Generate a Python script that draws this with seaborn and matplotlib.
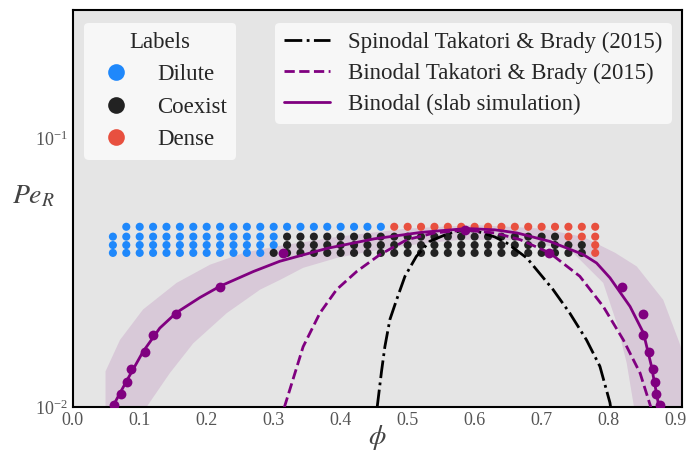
import matplotlib
matplotlib.use("Agg")
import matplotlib.pyplot as plt
import seaborn as sns
import pandas as pd
from matplotlib.lines import Line2D
from matplotlib.ticker import MultipleLocator, NullFormatter

# ---------------- data ----------------
phi_cols = [0.06, 0.08, 0.10, 0.12, 0.14, 0.16, 0.18, 0.20, 0.22, 0.24, 0.26, 0.28,
            0.30, 0.32, 0.34, 0.36, 0.38, 0.40, 0.42, 0.44, 0.46, 0.48, 0.50, 0.52,
            0.54, 0.56, 0.58, 0.60, 0.62, 0.64, 0.66, 0.68, 0.70, 0.72, 0.74, 0.76, 0.78]
pe_rows = [0.0469, 0.0431, 0.0401, 0.0375]
# D = Dilute, C = Coexist, S = Dense, . = no simulation
row_codes = [
    "." + "D" * 20 + "S" * 16,
    "D" * 13 + "C" * 21 + "S" * 3,
    "D" * 13 + "C" * 23 + "S" * 1,
    "D" * 12 + "C" * 24 + "S" * 1,
]
label_names = {"D": "Dilute", "C": "Coexist", "S": "Dense"}
label_colors = {"Dilute": "#1f88fb", "Coexist": "#222222", "Dense": "#e8503f"}

# slab simulation binodal points
sim_pe = [0.0102, 0.0112, 0.0124, 0.0139, 0.0160, 0.0186, 0.0223, 0.0280, 0.0374]
sim_phi_dilute = [0.0616, 0.0721, 0.0815, 0.0875, 0.1075, 0.1203, 0.1542, 0.2194, 0.3134]
sim_phi_dense = [0.8766, 0.8701, 0.8691, 0.8666, 0.8606, 0.8516, 0.8516, 0.8203, 0.7113]
crit_phi = [0.5855]
crit_pe = [0.0458]

# binodal fit (slab simulation)
fit_phi = [0.058, 0.061, 0.081, 0.105, 0.130, 0.155, 0.190, 0.220, 0.270, 0.309, 0.380,
           0.450, 0.520, 0.588, 0.630, 0.663, 0.712, 0.762, 0.782, 0.802, 0.832, 0.852,
           0.864, 0.874, 0.876]
fit_pe = [0.0100, 0.0102, 0.0126, 0.0161, 0.0197, 0.0225, 0.0256, 0.0282, 0.0320, 0.0349,
          0.0390, 0.0423, 0.0447, 0.0462, 0.0457, 0.0445, 0.0414, 0.0370, 0.0344, 0.0303,
          0.0237, 0.0189, 0.0142, 0.0104, 0.0100]

# Takatori & Brady binodal
tb_bin_phi = [0.316, 0.317, 0.344, 0.369, 0.394, 0.424, 0.459, 0.499, 0.540, 0.585,
              0.630, 0.668, 0.712, 0.757, 0.792, 0.822, 0.847, 0.862, 0.863]
tb_bin_pe = [0.0100, 0.0102, 0.0168, 0.0224, 0.0274, 0.0320, 0.0370, 0.0420, 0.0445, 0.0456,
             0.0445, 0.0420, 0.0375, 0.0307, 0.0237, 0.0178, 0.0134, 0.0102, 0.0100]

# Takatori & Brady spinodal
tb_spin_phi = [0.4545, 0.461, 0.466, 0.4735, 0.4835, 0.496, 0.513, 0.533, 0.560, 0.585,
               0.605, 0.630, 0.648, 0.678, 0.717, 0.742, 0.767, 0.787, 0.802, 0.803]
tb_spin_pe = [0.0100, 0.0136, 0.0168, 0.0212, 0.0251, 0.0307, 0.0364, 0.0414, 0.0442, 0.0456,
              0.0450, 0.0430, 0.0408, 0.0359, 0.0274, 0.0224, 0.0178, 0.0142, 0.0104, 0.0100]

# uncertainty band of the fit
band_outer_phi = [0.049, 0.049, 0.0706, 0.105, 0.155, 0.205, 0.255, 0.305, 0.400, 0.500,
                  0.600, 0.700, 0.762, 0.810, 0.842, 0.8815, 0.906, 0.925, 0.930]
band_outer_pe = [0.0100, 0.0136, 0.0178, 0.0231, 0.0290, 0.0339, 0.0375, 0.0397, 0.0432,
                 0.0462, 0.0476, 0.0462, 0.0430, 0.0375, 0.0334, 0.0251, 0.0173, 0.0120, 0.0100]
band_inner_phi = [0.110, 0.145, 0.180, 0.230, 0.280, 0.310, 0.344, 0.394, 0.444, 0.500,
                  0.580, 0.660, 0.742, 0.792, 0.812, 0.827, 0.838]
band_inner_pe = [0.0100, 0.0134, 0.0173, 0.0224, 0.0274, 0.0298, 0.0330, 0.0359, 0.0380,
                 0.0400, 0.0420, 0.0418, 0.0386, 0.0290, 0.0206, 0.0146, 0.0100]

# ---------------- style ----------------
sns.set_style("white")
plt.rcParams["font.family"] = ["Liberation Serif", "DejaVu Serif"]
plt.rcParams["mathtext.fontset"] = "stix"

fig = plt.figure(figsize=(6.88, 4.55), dpi=100)
ax = fig.add_axes([72.7 / 688, (455 - 407.3) / 455, (682.3 - 72.7) / 688, (407.3 - 10) / 455])
ax.set_facecolor("#e5e5e5")
ax.set_yscale("log")

# band
poly_phi = band_outer_phi + band_inner_phi[::-1]
poly_pe = band_outer_pe + band_inner_pe[::-1]
ax.fill(poly_phi, poly_pe, color="purple", alpha=0.12, lw=0, zorder=1)

# label dots
recs = []
for pe, codes in zip(pe_rows, row_codes):
    for phi, c in zip(phi_cols, codes):
        if c in label_names:
            recs.append({"phi": phi, "pe": pe, "label": label_names[c]})
df = pd.DataFrame(recs)
sns.scatterplot(data=df, x="phi", y="pe", hue="label", palette=label_colors,
                s=34, linewidth=0, legend=False, ax=ax, zorder=2)

# curves
sns.lineplot(x=tb_spin_phi, y=tb_spin_pe, sort=False, estimator=None, color="black",
             linestyle="-.", lw=2, ax=ax, zorder=3)
sns.lineplot(x=tb_bin_phi, y=tb_bin_pe, sort=False, estimator=None, color="purple",
             linestyle="--", lw=2, ax=ax, zorder=3)
sns.lineplot(x=fit_phi, y=fit_pe, sort=False, estimator=None, color="purple",
             linestyle="-", lw=2, ax=ax, zorder=3)

# simulation points
sim_df = pd.DataFrame({"phi": sim_phi_dilute + sim_phi_dense + crit_phi,
                       "pe": sim_pe + sim_pe + crit_pe})
sns.scatterplot(data=sim_df, x="phi", y="pe", color="purple", s=50, linewidth=0,
                ax=ax, zorder=4, legend=False)

ax.set_xlim(0.0, 0.91)
ax.set_ylim(0.01, 0.3)
ax.xaxis.set_major_locator(MultipleLocator(0.1))
ax.xaxis.set_minor_locator(MultipleLocator(0.05))
ax.yaxis.set_minor_formatter(NullFormatter())
ax.tick_params(axis="both", which="both", direction="in", colors="black",
               labelcolor="#555555", labelsize=13, width=1.3)
ax.tick_params(axis="x", which="both", length=4.5)
ax.tick_params(axis="y", which="major", length=5.5)
ax.tick_params(axis="y", which="minor", length=3.5)
for s in ax.spines.values():
    s.set_color("black")
    s.set_linewidth(1.5)

ax.set_xlabel(r"$\phi$", fontsize=20, color="#444444", va="center")
ax.xaxis.set_label_coords(0.5, (407.3 - 438) / 397.3)
ax.set_ylabel(r"$Pe_R$", fontsize=20, color="#444444", rotation=0, va="center", ha="center")
ax.yaxis.set_label_coords((33 - 72.7) / 609.6, (407.3 - 197) / 397.3)

# legends
h1 = [Line2D([], [], ls="", marker="o", ms=12, mew=0, color=label_colors[k]) for k in
      ["Dilute", "Coexist", "Dense"]]
leg1 = ax.legend(h1, ["Dilute", "Coexist", "Dense"], title="Labels", loc="upper left",
                 bbox_to_anchor=((84 - 72.7) / 609.6, (407.3 - 22.7) / 397.3),
                 borderaxespad=0, fontsize=16.5, title_fontsize=16.5, frameon=True,
                 facecolor="white", framealpha=0.7, edgecolor="none",
                 handlelength=2.0, handletextpad=0.8, labelspacing=0.5, borderpad=0.4)
ax.add_artist(leg1)
h2 = [Line2D([], [], color="black", ls="-.", lw=2),
      Line2D([], [], color="purple", ls="--", lw=2),
      Line2D([], [], color="purple", ls="-", lw=2)]
ax.legend(h2, ["Spinodal Takatori & Brady (2015)", "Binodal Takatori & Brady (2015)",
               "Binodal (slab simulation)"], loc="upper left",
          bbox_to_anchor=((275 - 72.7) / 609.6, (407.3 - 22.7) / 397.3),
          borderaxespad=0, fontsize=16.5, frameon=True, facecolor="white",
          framealpha=0.7, edgecolor="none", handlelength=2.0, handletextpad=0.8,
          labelspacing=0.42, borderpad=0.4)

fig.savefig("out.png", dpi=100)
